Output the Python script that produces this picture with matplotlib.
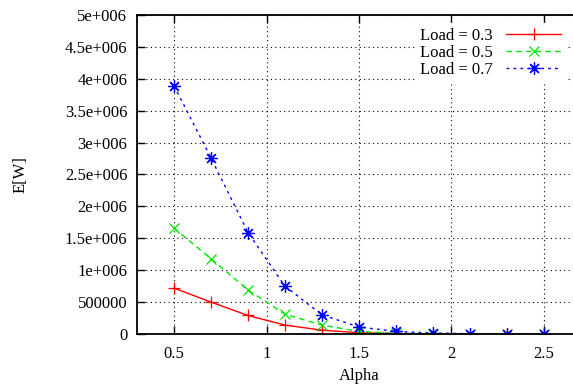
import matplotlib.pyplot as plt
import numpy as np

plt.rcParams['font.family'] = ['Liberation Serif', 'DejaVu Serif']
plt.rcParams['font.size'] = 12

# alpha values and E[W] per load level
alpha = [0.5, 0.7, 0.9, 1.1, 1.3, 1.5, 1.7, 1.9, 2.1, 2.3, 2.5]
load_03 = [720000, 500000, 290000, 140000, 60000, 20000, 8000, 3000, 1000, 500, 200]
load_05 = [1660000, 1180000, 690000, 310000, 140000, 40000, 12000, 4000, 1500, 600, 250]
load_07 = [3890000, 2760000, 1590000, 750000, 300000, 110000, 40000, 15000, 5000, 2000, 1000]

xticks = [0.5, 1, 1.5, 2, 2.5]
xtick_labels = ['0.5', '1', '1.5', '2', '2.5']
yticks = [0, 500000, 1000000, 1500000, 2000000, 2500000, 3000000, 3500000, 4000000, 4500000, 5000000]
ytick_labels = ['0', '500000', '1e+006', '1.5e+006', '2e+006', '2.5e+006',
                '3e+006', '3.5e+006', '4e+006', '4.5e+006', '5e+006']

fig = plt.figure(figsize=(5.73, 3.85), dpi=100)
# plot area runs past the right edge of the image
ax = fig.add_axes([137 / 573, 51 / 385, 444 / 573, 319 / 385])

ax.plot(alpha, load_03, color='#ff0000', lw=1, ls='-', marker='+', ms=8, mew=0.9,
        label='Load = 0.3')
ax.plot(alpha, load_05, color='#00e600', lw=1, ls=(0, (4, 3)), marker='x', ms=7, mew=0.9,
        label='Load = 0.5')
ax.plot(alpha, load_07, color='#0000ff', lw=1, ls=(0, (2, 3)), marker=(8, 2, 0), ms=9, mew=0.9,
        label='Load = 0.7')

ax.set_xlim(0.3, 2.7)
ax.set_ylim(0, 5000000)
ax.set_xticks(xticks)
ax.set_xticklabels(xtick_labels)
ax.set_yticks(yticks)
ax.set_yticklabels(ytick_labels)

ax.tick_params(direction='in', length=6, width=1, top=True, right=True)
ax.tick_params(axis='x', pad=9)
ax.tick_params(axis='y', pad=7)
for s in ax.spines.values():
    s.set_linewidth(1.3)

ax.grid(True, color='black', ls=(0, (1, 3)), lw=0.8)
ax.set_axisbelow(True)

ax.set_xlabel('Alpha', labelpad=4)
ax.set_ylabel('E[W]', labelpad=26)

leg = ax.legend(loc='upper right', bbox_to_anchor=(566 / 573, 362 / 385),
                bbox_transform=fig.transFigure, markerfirst=False, handlelength=3.3,
                frameon=True, fancybox=False, borderpad=0.3, labelspacing=0.05,
                handletextpad=0.8, borderaxespad=0)
leg.get_frame().set_edgecolor('white')
leg.get_frame().set_facecolor('white')
leg.get_frame().set_alpha(1)
# keep the white key box above the grid but under the frame and ticks
leg.set_zorder(2.2)

fig.savefig('out.png', dpi=100)
